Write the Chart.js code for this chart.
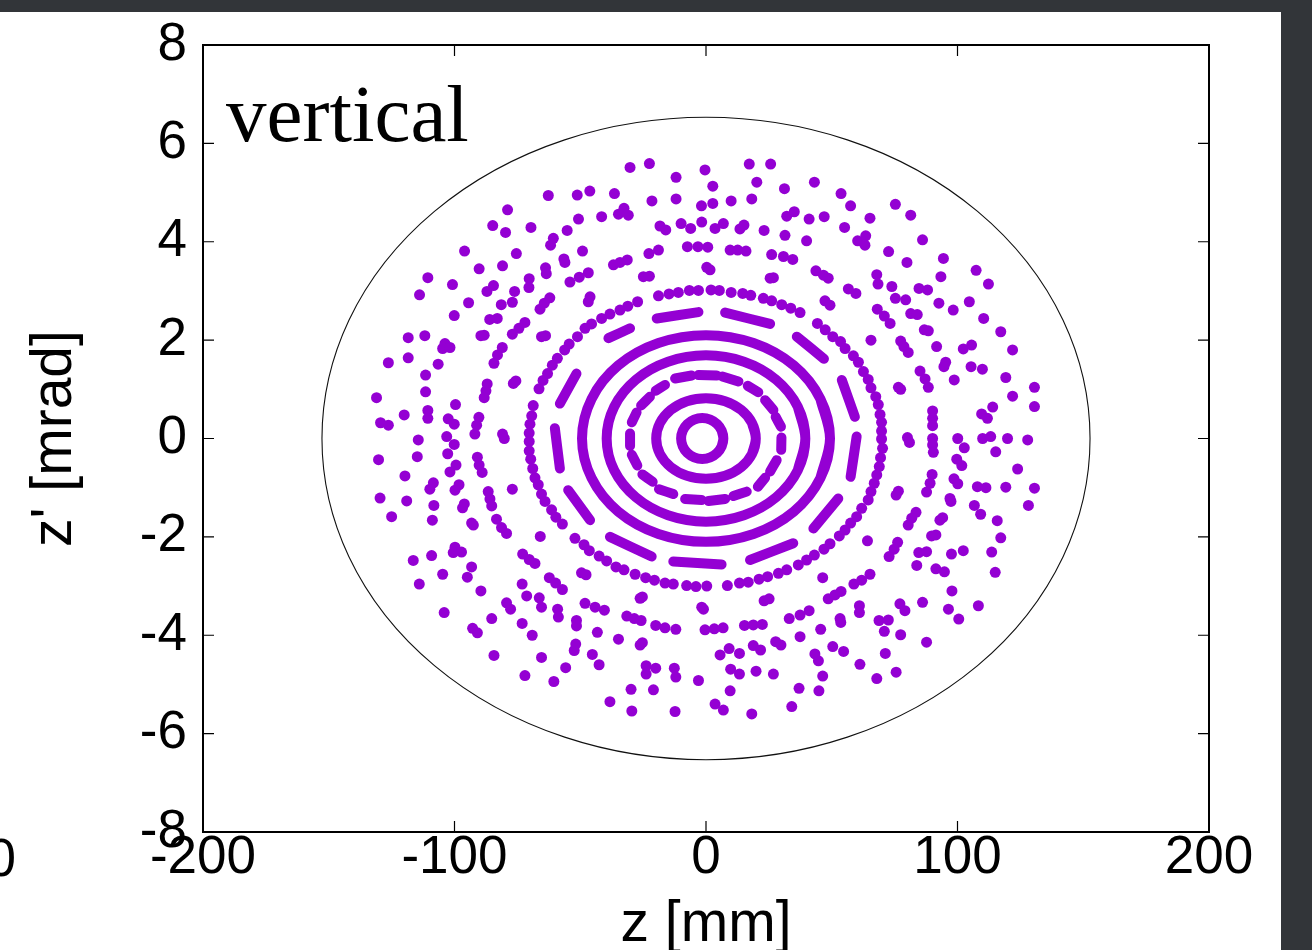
<!DOCTYPE html>
<html>
<head>
<meta charset="utf-8">
<script src="https://cdn.jsdelivr.net/npm/chart.js@4/dist/chart.umd.min.js"></script>
<style>
  html, body { margin: 0; padding: 0; background: #fff; overflow: hidden; }
  #wrap { position: relative; width: 1312px; height: 950px; overflow: hidden; background: #fff; }
  #c { position: absolute; left: 0; top: 0; }
  #topbar { position: absolute; left: 0; top: 0; width: 1312px; height: 12px; background: #323539; }
  #rightbar { position: absolute; left: 1281px; top: 0; width: 31px; height: 950px; background: #323539; }
  #panelTag { position: absolute; left: 226px; top: 74px; font-family: 'Liberation Serif', serif; font-size: 81px; line-height: 81px; color: #000; white-space: nowrap; }
  #neighbour { position: absolute; right: 1296px; top: 831px; font-family: 'Liberation Sans', Arial, sans-serif; font-size: 53px; line-height: 53px; color: #000; white-space: nowrap; }
</style>
</head>
<body>
<div id="wrap">
  <canvas id="c" width="1312" height="950"></canvas>
  <div id="panelTag">vertical</div>
  <div id="neighbour">200</div>
  <div id="topbar"></div>
  <div id="rightbar"></div>
</div>
<script>
// ---------------- data (z in mm, z' in mrad) ----------------
const xTicks = [-200, -100, 0, 100, 200];
const yTicks = [-8, -6, -4, -2, 0, 2, 4, 6, 8];
const acceptanceSemiAxes = [152.7, 6.53];

// continuous rings (points read along each ring, last ones overlap the first)
const ring1Points = [[6.26,-0.159],[6.9,0],[6.26,0.159],[4.44,0.293],[1.71,0.383],[-1.5,0.415],[-4.71,0.383],[-7.44,0.293],[-9.26,0.159],[-9.9,0],[-9.26,-0.159],[-7.44,-0.293],[-4.71,-0.383],[-1.5,-0.415],[1.71,-0.383],[4.44,-0.293],[6.26,-0.159],[6.9,0],[6.26,0.159]];
const ring2Points = [[18.3,-0.314],[19.8,0],[18.3,0.314],[14.0,0.58],[7.58,0.758],[0,0.82],[-7.58,0.758],[-14.0,0.58],[-18.3,0.314],[-19.8,0],[-18.3,-0.314],[-14.0,-0.58],[-7.58,-0.758],[0,-0.82],[7.58,-0.758],[14.0,-0.58],[18.3,-0.314],[19.8,0],[18.3,0.314]];
const ring4Points = [[36.5,-0.647],[39.5,0],[36.5,0.647],[27.9,1.195],[15.1,1.561],[0,1.69],[-15.1,1.561],[-27.9,1.195],[-36.5,0.647],[-39.5,0],[-36.5,-0.647],[-27.9,-1.195],[-15.1,-1.561],[0,-1.69],[15.1,-1.561],[27.9,-1.195],[36.5,-0.647],[39.5,0],[36.5,0.647]];
const ring5Points = [[45.5,-0.804],[49.3,0],[45.5,0.804],[34.9,1.485],[18.9,1.94],[0,2.10],[-18.9,1.94],[-34.9,1.485],[-45.5,0.804],[-49.3,0],[-45.5,-0.804],[-34.9,-1.485],[-18.9,-1.94],[0,-2.10],[18.9,-1.94],[34.9,-1.485],[45.5,-0.804],[49.3,0],[45.5,0.804]];

// dashed rings: [z1, z'1, z2, z'2] per dash
const ring3Dashes = [[-12.3,1.22,-5.7,1.28],[-3.0,1.29,4.3,1.28],[6.5,1.26,12.9,1.16],[16.6,1.07,20.8,0.94],[23.5,0.78,26.8,0.58],[27.7,0.44,29.8,0.24],[30.0,0.02,29.9,-0.23],[28.1,-0.44,25.5,-0.67],[23.5,-0.80,20.6,-0.98],[16.2,-1.08,10.9,-1.17],[7.6,-1.23,1.0,-1.27],[-1.7,-1.25,-8.3,-1.23],[-13.0,-1.13,-18.7,-1.03],[-21.2,-0.88,-25.3,-0.73],[-27.3,-0.55,-29.5,-0.33],[-30.2,-0.15,-30.2,0.10],[-29.5,0.33,-27.6,0.53],[-25.8,0.67,-22.3,0.85],[-20.0,0.97,-16.3,1.09]];
const ring6Dashes = [[-19.6,2.44,-3.0,2.57],[7.6,2.56,25.5,2.33],[36.1,2.07,46.9,1.62],[54.0,1.19,59.2,0.44],[59.9,0.04,57.5,-0.78],[52.6,-1.22,42.7,-1.83],[34.7,-2.13,17.5,-2.47],[6.2,-2.56,-13.0,-2.50],[-21.6,-2.40,-38.2,-2.00],[-46.1,-1.66,-54.8,-1.05],[-58.1,-0.61,-60.1,0.21],[-58.1,0.71,-51.5,1.32],[-38.8,2.04,-30.2,2.24]];

// dotted ring
const ring7Points = [[-18.9,2.90],[-14.7,2.94],[-11.0,2.97],[-6.6,3.01],[-3.0,3.01],[2.0,3.02],[5.3,3.01],[10.0,2.97],[14.6,2.95],[17.8,2.91],[22.8,2.85],[26.1,2.80],[30.1,2.72],[33.7,2.65],[37.4,2.56],
[-27.2,2.78],[-31.1,2.69],[-34.2,2.61],[-38.2,2.53],[-41.5,2.44],[-45.5,2.33],[-48.1,2.24],[-51.1,2.07],[44.3,2.34],[47.4,2.21],
[-54.4,1.92],[-56.2,1.80],[-59.1,1.63],[-61.1,1.49],[-63.0,1.32],[-64.8,1.18],[-66.4,1.01],[-68.7,0.67],[-69.3,0.46],[-70.0,0.29],[-70.3,0.11],[-70.3,-0.06],[-70.3,-0.25],[-69.7,-0.42],[-68.9,-0.61],[-68.0,-0.80],[-66.7,-0.94],[-65.4,-1.13],[-64.0,-1.28],[-61.4,-1.45],[-59.7,-1.60],[-57.1,-1.74],
[-52.1,-2.03],[-48.5,-2.16],[-46.4,-2.28],
[-42.5,-2.39],[-39.5,-2.49],[-35.8,-2.61],[-32.6,-2.67],[-28.2,-2.76],[-24.0,-2.83],[-20.5,-2.88],[-16.3,-2.94],[-13.0,-2.96],[-7.7,-2.99],[-4.0,-3.01],[0.3,-3.00],[8.5,-2.99],[13.3,-2.94],[16.8,-2.92],[21.1,-2.86],[24.5,-2.81],[28.8,-2.74],[32.1,-2.67],[36.7,-2.57],[40.0,-2.47],[43.1,-2.37],
[46.9,-2.25],[49.3,-2.14],[53.0,-1.98],
[50.4,2.07],[53.5,1.97],[55.3,1.83],[58.6,1.68],[60.6,1.55],[62.6,1.36],[64.5,1.20],[65.6,1.03],[67.5,0.85],[68.5,0.69],[69.2,0.49],[69.8,0.33],[69.8,0.15],[69.8,-0.01],[70.2,-0.20],[69.4,-0.39],[68.9,-0.57],[67.9,-0.74],[66.9,-0.91],[65.6,-1.08],[64.5,-1.25],[61.9,-1.42],[59.9,-1.59],[57.5,-1.72],[55.3,-1.86]];

// scattered turns, by region
const upperLeftTurns = [[-62.7,4.94],[-51.2,4.95],[-78.9,4.65],[-84.8,4.33],[-79.7,4.19],[-69.6,4.29],[-55.2,4.23],[-50.7,4.46],[-60.7,4.07],[-61.8,3.93],[-49.1,3.81],[-96.0,3.81],[-75.4,3.76],[-56.5,3.65],[-56.1,3.58],[-80.9,3.51],[-90.2,3.45],[-63.8,3.47],[-63.5,3.35],[-110.6,3.27],[-100.8,3.13],[-84.5,3.11],[-87.1,2.99],[-70.3,3.25],[-70.4,3.07],[-76.1,2.99],[-54.1,3.18],[-50.4,3.28],[-113.9,2.92],[-94.4,2.76],[-81.4,2.72],[-77.0,2.77],[-62.1,2.86],[-64.3,2.75],[-66.0,2.63],[-100.1,2.50],[-86.0,2.42],[-83.0,2.44],[-72.0,2.36],[-74.4,2.24],[-77.0,2.12],[-118.4,2.05],[-111.8,2.09],[-89.5,2.09],[-88.2,2.10],[-65.4,2.07],[-63.8,2.09]];
const upperMidTurns = [[-30.2,5.51],[-22.5,5.59],[-11.9,5.31],[-0.4,5.46],[17.2,5.58],[25.7,5.58],[2.7,5.13],[20.2,5.21],[31.2,5.08],[-46.2,5.03],[-36.4,4.98],[-21.5,4.83],[-11.9,4.87],[-1.8,4.73],[2.7,4.78],[10.0,4.83],[18.2,4.87],[-41.5,4.51],[-32.6,4.68],[-34.8,4.56],[-30.9,4.54],[-18.3,4.32],[-16.0,4.24],[-9.9,4.37],[-6.1,4.27],[-1.7,4.40],[3.6,4.27],[6.9,4.37],[13.5,4.26],[15.1,4.34],[23.1,4.23],[32.1,4.52],[35.1,4.61],[41.0,4.46],[31.4,4.13],[40.0,4.02],[-7.4,3.90],[-3.2,3.90],[0.7,3.89],[9.6,3.83],[12.6,3.83],[15.9,3.81],[-22.7,3.76],[-18.9,3.83],[26.1,3.74],[30.8,3.70],[34.5,3.64],[-46.8,3.37],[-36.8,3.53],[-34.2,3.58],[-31.3,3.63],[0.3,3.48],[1.6,3.43],[-24.9,3.29],[-22.5,3.30],[25.5,3.26],[26.8,3.27],[-46.1,2.88],[-46.8,2.78]];
const upperRightTurns = [[43.1,5.21],[53.7,4.98],[57.5,4.73],[75.3,4.76],[81.4,4.54],[47.0,4.51],[65.2,4.48],[55.1,4.29],[60.3,4.02],[63.5,4.12],[63.2,3.93],[86.1,4.04],[72.6,3.80],[79.9,3.58],[94.4,3.66],[43.7,3.41],[46.7,3.32],[48.6,3.26],[67.9,3.33],[68.4,3.14],[93.4,3.29],[107.4,3.42],[112.3,3.14],[56.6,3.04],[59.6,2.95],[73.9,3.09],[75.3,2.85],[79.4,2.82],[84.7,3.05],[88.1,3.02],[92.6,2.75],[98.3,2.61],[104.7,2.78],[110.4,2.44],[117.2,2.17],[47.3,2.80],[49.3,2.71],[68.1,2.63],[70.9,2.49],[73.2,2.34],[81.4,2.54],[84.0,2.52],[86.8,2.21],[88.4,2.19]];
const midLeftTurns = [[-103.8,1.93],[-104.7,1.83],[-101.8,1.85],[-81.0,1.85],[-82.9,1.70],[-84.3,1.53],[-126.3,1.54],[-118.4,1.64],[-106.5,1.51],[-111.5,1.29],[-111.5,0.95],[-131.0,0.83],[-76.6,1.12],[-75.6,1.17],[-87.0,1.11],[-87.5,0.97],[-88.2,0.83],[-99.6,0.69],[-120.0,0.48],[-110.6,0.57],[-110.6,0.41],[-129.4,0.32],[-126.3,0.27],[-102.5,0.40],[-100.1,0.29],[-90.3,0.43],[-91.2,0.27],[-91.9,0.09],[-80.9,0.09],[-80.2,0.00],[-114.4,-0.03],[-103.1,0.04],[-100.1,-0.12],[-102.7,-0.31],[-114.8,-0.37],[-130.2,-0.43],[-90.9,-0.38],[-90.2,-0.54],[-89.0,-0.69],[-99.4,-0.54],[-101.8,-0.68],[-119.7,-0.76],[-108.4,-0.90],[-109.8,-1.03],[-98.2,-0.94],[-99.8,-1.05],[-77.0,-1.03],[-129.6,-1.21],[-119.0,-1.27],[-108.2,-1.36],[-96.1,-1.33],[-96.8,-1.41],[-86.6,-1.08],[-85.9,-1.23],[-85.2,-1.37],[-125.0,-1.59],[-108.8,-1.66],[-93.2,-1.72],[-92.5,-1.76],[-83.3,-1.64],[-81.3,-1.81],[-79.3,-1.93]];
const midRightTurns = [[65.6,2.00],[77.4,1.98],[78.7,1.87],[80.4,1.75],[91.7,1.87],[102.3,1.82],[105.6,1.90],[121.9,1.80],[95.3,1.55],[94.6,1.46],[105.4,1.46],[109.9,1.41],[85.1,1.37],[87.1,1.21],[88.4,1.04],[98.7,1.19],[119.2,1.24],[76.5,1.04],[77.4,1.00],[130.6,1.04],[121.9,0.86],[114.0,0.64],[130.6,0.65],[90.1,0.56],[90.1,0.41],[90.1,0.26],[109.6,0.50],[111.9,0.41],[80.1,0.02],[80.9,-0.08],[90.1,0.00],[90.1,-0.13],[90.4,-0.28],[100.1,0.00],[102.7,-0.19],[110.0,0.00],[113.2,0.04],[119.9,0.00],[127.9,-0.03],[115.2,-0.27],[99.7,-0.42],[101.7,-0.55],[123.9,-0.62],[89.9,-0.73],[89.1,-0.91],[87.7,-1.09],[98.6,-0.82],[100.1,-0.92],[107.9,-0.98],[111.3,-1.00],[119.2,-0.99],[130.6,-1.01],[76.5,-1.07],[75.6,-1.15],[97.0,-1.22],[97.4,-1.28],[106.7,-1.36],[128.2,-1.36],[83.5,-1.50],[81.8,-1.62],[80.4,-1.76],[109.2,-1.54],[94.1,-1.61],[93.0,-1.66],[115.8,-1.67]];
const lowerLeftTurns = [[-65.9,-1.99],[-116.4,-2.48],[-109.1,-2.38],[-99.8,-2.21],[-100.5,-2.32],[-97.2,-2.31],[-93.2,-2.61],[-104.7,-2.76],[-94.9,-2.82],[-114.0,-2.96],[-89.5,-3.10],[-72.9,-2.35],[-70.3,-2.46],[-68.0,-2.54],[-73.1,-2.96],[-71.3,-3.20],[-79.3,-3.34],[-77.7,-3.47],[-66.3,-3.24],[-65.4,-3.43],[-62.3,-2.83],[-59.8,-2.94],[-57.1,-3.07],[-49.5,-2.73],[-47.7,-2.77],[-48.1,-3.35],[-59.0,-3.47],[-58.7,-3.63],[-51.5,-3.70],[-51.5,-3.81],[-104.1,-3.54],[-85.2,-3.66],[-73.1,-3.76],[-92.8,-3.86],[-90.9,-3.95],[-69.1,-4.00],[-51.8,-4.18],[-52.4,-4.31],[-84.3,-4.41],[-65.4,-4.45],[-55.8,-4.66],[-72.0,-4.82],[-60.5,-4.94]];
const lowerMidTurns = [[-26.2,-3.25],[-25.3,-3.22],[-1.7,-3.43],[-1.0,-3.47],[23.1,-3.30],[25.1,-3.26],[-44.1,-3.43],[-40.4,-3.49],[-31.5,-3.61],[-28.5,-3.66],[-25.8,-3.70],[-20.0,-3.80],[-16.3,-3.85],[-12.0,-3.88],[-0.4,-3.89],[3.3,-3.87],[6.8,-3.85],[15.3,-3.80],[18.8,-3.79],[22.4,-3.78],[33.1,-3.66],[37.4,-3.59],[41.0,-3.50],[-43.2,-3.94],[-34.8,-4.08],[-26.2,-4.20],[-25.3,-4.15],[27.7,-4.13],[29.8,-4.20],[37.4,-4.03],[-45.2,-4.39],[-42.5,-4.60],[9.2,-4.27],[5.6,-4.40],[13.3,-4.37],[18.8,-4.21],[21.7,-4.30],[-23.8,-4.62],[-23.8,-4.79],[-20.0,-4.67],[-12.6,-4.67],[-12.0,-4.85],[-3.0,-4.92],[9.8,-4.69],[13.3,-4.79],[19.9,-4.73],[26.8,-4.79],[-29.8,-5.10],[-20.9,-5.11],[9.6,-5.13],[37.0,-5.08],[-38.2,-5.35],[-29.5,-5.54],[-12.3,-5.55],[3.6,-5.40],[6.9,-5.52],[18.2,-5.60],[34.1,-5.45]];
const lowerRightTurns = [[64.2,-2.08],[76.2,-2.11],[74.8,-2.25],[72.8,-2.40],[89.7,-1.98],[91.4,-1.96],[84.6,-2.32],[87.7,-2.30],[97.6,-2.35],[102.3,-2.28],[113.6,-2.31],[117.2,-2.02],[115.0,-2.72],[83.8,-2.58],[91.4,-2.65],[94.8,-2.71],[46.4,-2.83],[58.8,-2.96],[61.9,-2.88],[65.2,-2.76],[48.6,-3.26],[51.3,-3.18],[53.7,-3.11],[97.8,-3.10],[61.0,-3.40],[61.0,-3.54],[77.1,-3.36],[79.1,-3.50],[86.1,-3.33],[96.4,-3.47],[100.5,-3.67],[108.3,-3.40],[53.3,-3.66],[53.6,-3.74],[68.8,-3.70],[72.5,-3.69],[70.9,-3.92],[77.4,-3.99],[45.6,-3.88],[87.7,-4.14],[50.4,-4.23],[54.7,-4.33],[43.3,-4.38],[44.7,-4.52],[71.3,-4.37],[61.2,-4.59],[46.4,-4.83],[75.6,-4.75],[67.9,-4.88],[44.9,-5.13]];

// ---------------- chart ----------------
const PURPLE = '#9400d3';
const toXY = arr => arr.map(([x, y]) => ({ x, y }));
const dashesToXY = arr => arr.flatMap(([x1, y1, x2, y2]) => [{ x: x1, y: y1 }, { x: x2, y: y2 }, { x: null, y: null }]);

const ringStyle = {
  showLine: true, pointRadius: 0, borderColor: PURPLE, backgroundColor: PURPLE,
  borderWidth: 10, borderCapStyle: 'round', borderJoinStyle: 'round',
  tension: 0.34, spanGaps: false, fill: false
};

const datasets = [
  Object.assign({ label: 'ring1', data: toXY(ring1Points) }, ringStyle),
  Object.assign({ label: 'ring2', data: toXY(ring2Points) }, ringStyle),
  Object.assign({ label: 'ring3', data: dashesToXY(ring3Dashes) }, ringStyle),
  Object.assign({ label: 'ring4', data: toXY(ring4Points) }, ringStyle),
  Object.assign({ label: 'ring5', data: toXY(ring5Points) }, ringStyle),
  Object.assign({ label: 'ring6', data: dashesToXY(ring6Dashes) }, ringStyle),
  {
    label: 'turns',
    data: toXY([].concat(ring7Points, upperLeftTurns, upperMidTurns, upperRightTurns,
      midLeftTurns, midRightTurns, lowerLeftTurns, lowerMidTurns, lowerRightTurns)),
    showLine: false, pointRadius: 5.5, pointBackgroundColor: PURPLE,
    pointBorderColor: PURPLE, pointBorderWidth: 0
  }
];

const TICK_LEN = 11;
const gnuplotFrame = {
  id: 'gnuplotFrame',
  beforeDatasetsDraw(chart) {
    const { ctx, scales: { x, y } } = chart;
    const cx = x.getPixelForValue(0), cy = y.getPixelForValue(0);
    const rx = x.getPixelForValue(acceptanceSemiAxes[0]) - cx;
    const ry = cy - y.getPixelForValue(acceptanceSemiAxes[1]);
    ctx.save();
    ctx.beginPath();
    ctx.ellipse(cx, cy, rx, ry, 0, 0, Math.PI * 2);
    ctx.strokeStyle = '#111';
    ctx.lineWidth = 1.1;
    ctx.stroke();
    ctx.restore();
  },
  afterDatasetsDraw(chart) {
    const { ctx, chartArea: a, scales: { x, y } } = chart;
    ctx.save();
    ctx.strokeStyle = '#000';
    ctx.lineWidth = 1.2;
    ctx.beginPath();
    xTicks.forEach(v => {
      const p = x.getPixelForValue(v);
      ctx.moveTo(p, a.bottom); ctx.lineTo(p, a.bottom - TICK_LEN);
      ctx.moveTo(p, a.top); ctx.lineTo(p, a.top + TICK_LEN);
    });
    yTicks.forEach(v => {
      const p = y.getPixelForValue(v);
      ctx.moveTo(a.left, p); ctx.lineTo(a.left + TICK_LEN, p);
      ctx.moveTo(a.right, p); ctx.lineTo(a.right - TICK_LEN, p);
    });
    ctx.stroke();
    ctx.lineWidth = 2;
    ctx.strokeRect(a.left, a.top, a.right - a.left, a.bottom - a.top);
    ctx.restore();
  }
};

const tickFont = { family: "'Liberation Sans', Arial, sans-serif", size: 53, lineHeight: 1 };
const titleFont = { family: "'Liberation Sans', Arial, sans-serif", size: 57, lineHeight: 1 };

new Chart(document.getElementById('c'), {
  type: 'scatter',
  data: { datasets },
  options: {
    responsive: false,
    animation: false,
    events: [],
    devicePixelRatio: 1,
    layout: { padding: { left: 0, top: 45, right: 103, bottom: 0 } },
    plugins: { legend: { display: false }, tooltip: { enabled: false } },
    scales: {
      x: {
        type: 'linear', position: 'bottom', min: xTicks[0], max: xTicks[xTicks.length - 1],
        afterBuildTicks: s => { s.ticks = xTicks.map(v => ({ value: v })); },
        ticks: { font: tickFont, color: '#000', padding: 0, maxRotation: 0, autoSkip: false },
        grid: { display: false, drawTicks: false },
        border: { display: false },
        title: { display: true, text: 'z [mm]', color: '#000', font: titleFont, padding: { top: 0, bottom: -4 } },
        afterFit: s => { s.height = 118; }
      },
      y: {
        type: 'linear', position: 'left', min: yTicks[0], max: yTicks[yTicks.length - 1],
        afterBuildTicks: s => { s.ticks = yTicks.map(v => ({ value: v })); },
        ticks: { font: tickFont, color: '#000', padding: 16, autoSkip: false },
        grid: { display: false, drawTicks: false },
        border: { display: false },
        title: { display: true, text: "z' [mrad]", color: '#000', font: titleFont, padding: { top: 27, bottom: 0 } },
        afterFit: s => { s.width = 203; }
      }
    }
  },
  plugins: [gnuplotFrame]
});
</script>
</body>
</html>
